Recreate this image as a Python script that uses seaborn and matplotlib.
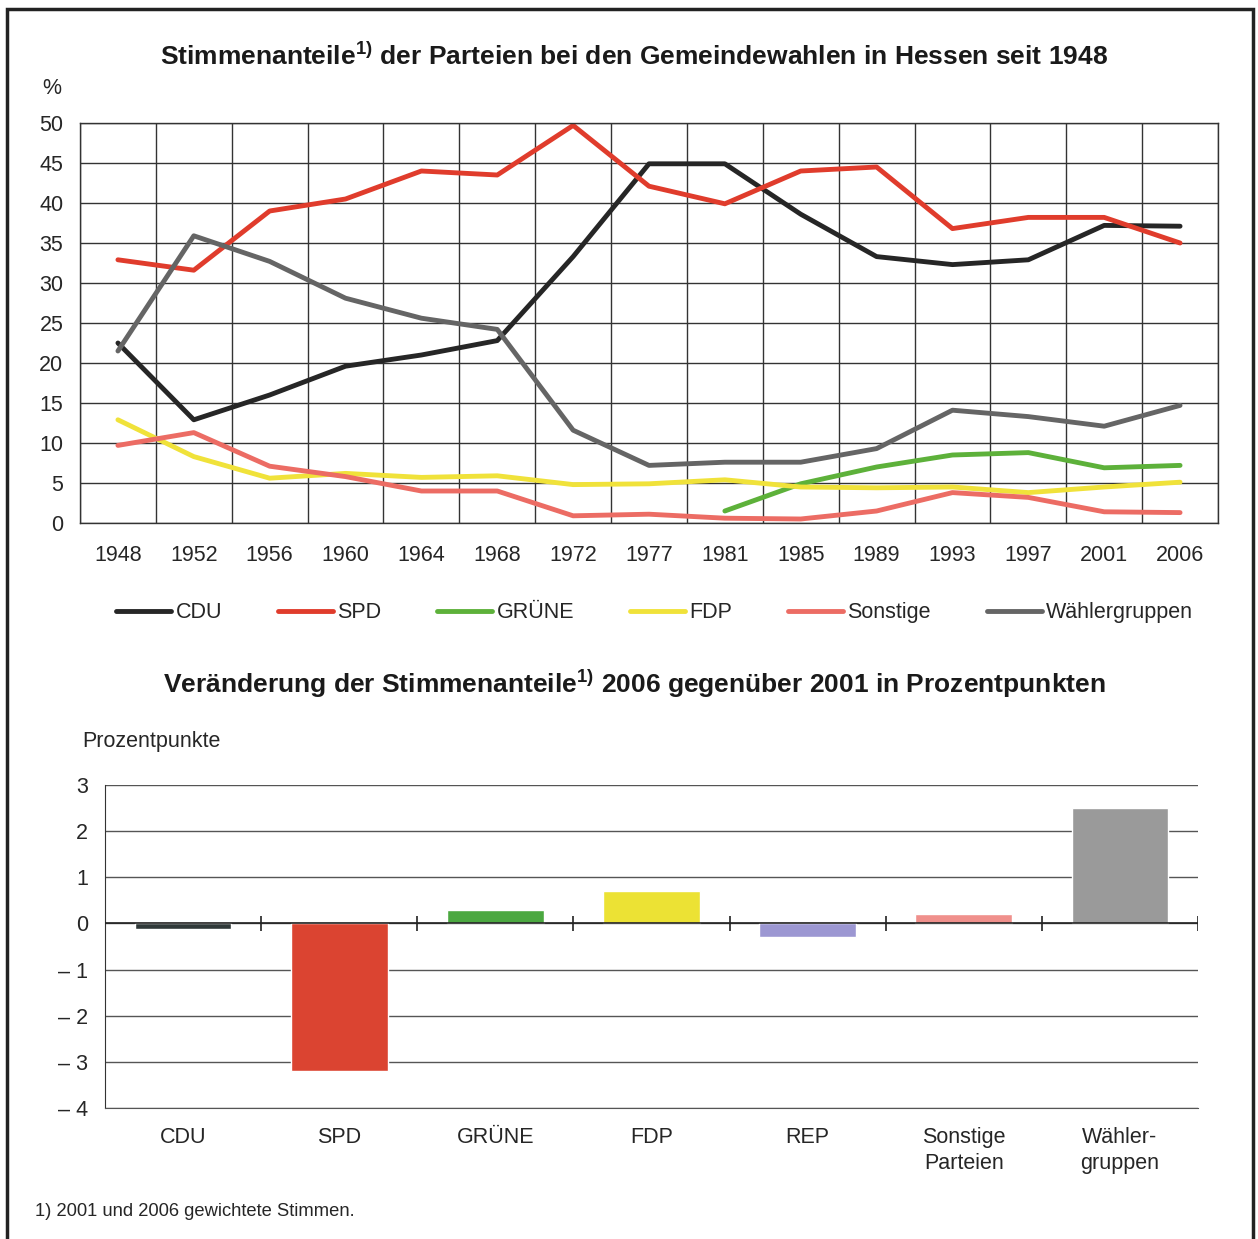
import numpy as np
import pandas as pd
import matplotlib
matplotlib.use("Agg")
import matplotlib.pyplot as plt
import seaborn as sns
from matplotlib.patches import Rectangle

# --- Daten: Stimmenanteile in % ---
years = ["1948", "1952", "1956", "1960", "1964", "1968", "1972", "1977",
         "1981", "1985", "1989", "1993", "1997", "2001", "2006"]
cdu = [22.5, 12.9, 16.0, 19.6, 21.0, 22.8, 33.3, 44.9, 44.9, 38.6, 33.3, 32.3, 32.9, 37.2, 37.1]
spd = [32.9, 31.6, 39.0, 40.5, 44.0, 43.5, 49.7, 42.1, 39.9, 44.0, 44.5, 36.8, 38.2, 38.2, 35.0]
gruene = [np.nan] * 8 + [1.5, 4.9, 7.0, 8.5, 8.8, 6.9, 7.2]
fdp = [12.9, 8.3, 5.6, 6.2, 5.7, 5.9, 4.8, 4.9, 5.4, 4.5, 4.4, 4.5, 3.8, 4.5, 5.1]
sonstige = [9.7, 11.3, 7.1, 5.8, 4.0, 4.0, 0.9, 1.1, 0.6, 0.5, 1.5, 3.8, 3.2, 1.4, 1.3]
waehler = [21.5, 35.9, 32.7, 28.1, 25.6, 24.2, 11.6, 7.2, 7.6, 7.6, 9.3, 14.1, 13.3, 12.1, 14.7]

series_names = ["CDU", "SPD", "GRÜNE", "FDP", "Sonstige", "Wählergruppen"]
series_colors = ["#262626", "#e03c2c", "#5db13a", "#f0e23a", "#ec6c64", "#656565"]

# --- Daten: Veränderung 2006 gegenüber 2001 in Prozentpunkten ---
parties = ["CDU", "SPD", "GRÜNE", "FDP", "REP", "Sonstige\nParteien", "Wähler-\ngruppen"]
change = [-0.12, -3.2, 0.3, 0.7, -0.3, 0.2, 2.5]
bar_colors = ["#2f3838", "#db4431", "#4ba840", "#ece234", "#9c97d2", "#f0908c", "#9a9a9a"]

sns.set_style("white")
plt.rcParams["font.family"] = ["Liberation Sans", "DejaVu Sans"]
plt.rcParams["mathtext.fontset"] = "custom"
plt.rcParams["mathtext.rm"] = "Liberation Sans"
plt.rcParams["mathtext.bf"] = "Liberation Sans:bold"

FS = 15.5
W, H = 1258, 1239
fig = plt.figure(figsize=(W / 100, H / 100), dpi=100)

def px_axes(left, top, right, bottom):
    return fig.add_axes([left / W, 1 - bottom / H, (right - left) / W, (bottom - top) / H])

# ---------------- Liniendiagramm ----------------
ax1 = px_axes(80, 123, 1218, 523)
long = pd.DataFrame({
    "pos": np.tile(np.arange(len(years)), len(series_names)),
    "wert": np.concatenate([cdu, spd, gruene, fdp, sonstige, waehler]),
    "partei": np.repeat(series_names, len(years)),
})
sns.lineplot(data=long, x="pos", y="wert", hue="partei", hue_order=series_names,
             palette=series_colors, linewidth=3.5, ax=ax1)

ax1.set_xlim(-0.5, len(years) - 0.5)
ax1.set_ylim(0, 50)
ax1.set_xticks(np.arange(len(years)))
ax1.set_xticklabels(years)
ax1.set_xticks(np.arange(len(years) + 1) - 0.5, minor=True)
ax1.set_yticks(np.arange(0, 51, 5))
ax1.tick_params(axis="x", which="major", length=0, pad=16, labelsize=FS)
ax1.tick_params(axis="x", which="minor", length=8, width=1, color="#333333", direction="out")
ax1.tick_params(axis="y", length=8, width=1, color="#333333", direction="out", labelsize=FS, pad=4)
ax1.xaxis.grid(True, which="minor", color="#333333", linewidth=1)
ax1.yaxis.grid(True, color="#333333", linewidth=1)
ax1.xaxis.grid(False, which="major")
for sp in ax1.spines.values():
    sp.set_color("#333333")
    sp.set_linewidth(1)
ax1.set_xlabel("")
ax1.set_ylabel("")

handles, labels = ax1.get_legend_handles_labels()
ax1.legend(handles, labels, loc="upper center", bbox_to_anchor=(0.505, -0.15), ncol=6,
           frameon=False, fontsize=FS, handlelength=2.55, handletextpad=0.2,
           columnspacing=2.6)

fig.text(634 / W, 1 - 56 / H, r"Stimmenanteile$^{\mathbf{1)}}$ der Parteien bei den Gemeindewahlen in Hessen seit 1948",
         ha="center", va="center", fontsize=19, fontweight="bold", color="#1a1a1a")
fig.text(42 / W, 1 - 88 / H, "%", ha="left", va="center", fontsize=FS)

# ---------------- Balkendiagramm ----------------
ax2 = px_axes(105, 785, 1198, 1108)
bars = pd.DataFrame({"partei": parties, "wert": change})
sns.barplot(data=bars, x="partei", y="wert", hue="partei", palette=bar_colors,
            width=0.62, legend=False, ax=ax2, saturation=1)
ax2.set_xlim(-0.5, len(parties) - 0.5)
ax2.set_ylim(-4, 3)
ax2.set_yticks(np.arange(-4, 4))
ax2.set_yticklabels(["– 4", "– 3", "– 2", "– 1", "0", "1", "2", "3"])
ax2.yaxis.grid(True, color="#555555", linewidth=1)
ax2.set_axisbelow(True)
ax2.tick_params(axis="y", length=8, width=1, color="#333333", direction="out", labelsize=FS, pad=4)
ax2.tick_params(axis="x", length=0, pad=14, labelsize=FS)
for t in ax2.get_xticklabels():
    t.set_linespacing(1.3)
for name in ["top", "right"]:
    ax2.spines[name].set_visible(False)
ax2.spines["left"].set_color("#333333")
ax2.spines["bottom"].set_color("#555555")
ax2.axhline(0, color="#222222", linewidth=1.2, zorder=3)
bounds = np.arange(len(parties)) + 0.5
ax2.vlines(bounds, -0.17, 0.17, color="#222222", linewidth=1.2, zorder=3)
ax2.set_xlabel("")
ax2.set_ylabel("")

fig.text(634 / W, 1 - 684 / H, r"Veränderung der Stimmenanteile$^{\mathbf{1)}}$ 2006 gegenüber 2001 in Prozentpunkten",
         ha="center", va="center", fontsize=19, fontweight="bold", color="#1a1a1a")
fig.text(82 / W, 1 - 742 / H, "Prozentpunkte", ha="left", va="center", fontsize=FS)
fig.text(35 / W, 1 - 1211 / H, "1) 2001 und 2006 gewichtete Stimmen.", ha="left", va="center", fontsize=13.2)

# Rahmen um die Seite
fig.patches.append(Rectangle((7 / W, -0.02), 1246 / W, 1 - 9 / H + 0.02, transform=fig.transFigure,
                             fill=False, edgecolor="#222222", linewidth=2.5))

fig.savefig("out.png", dpi=100)
